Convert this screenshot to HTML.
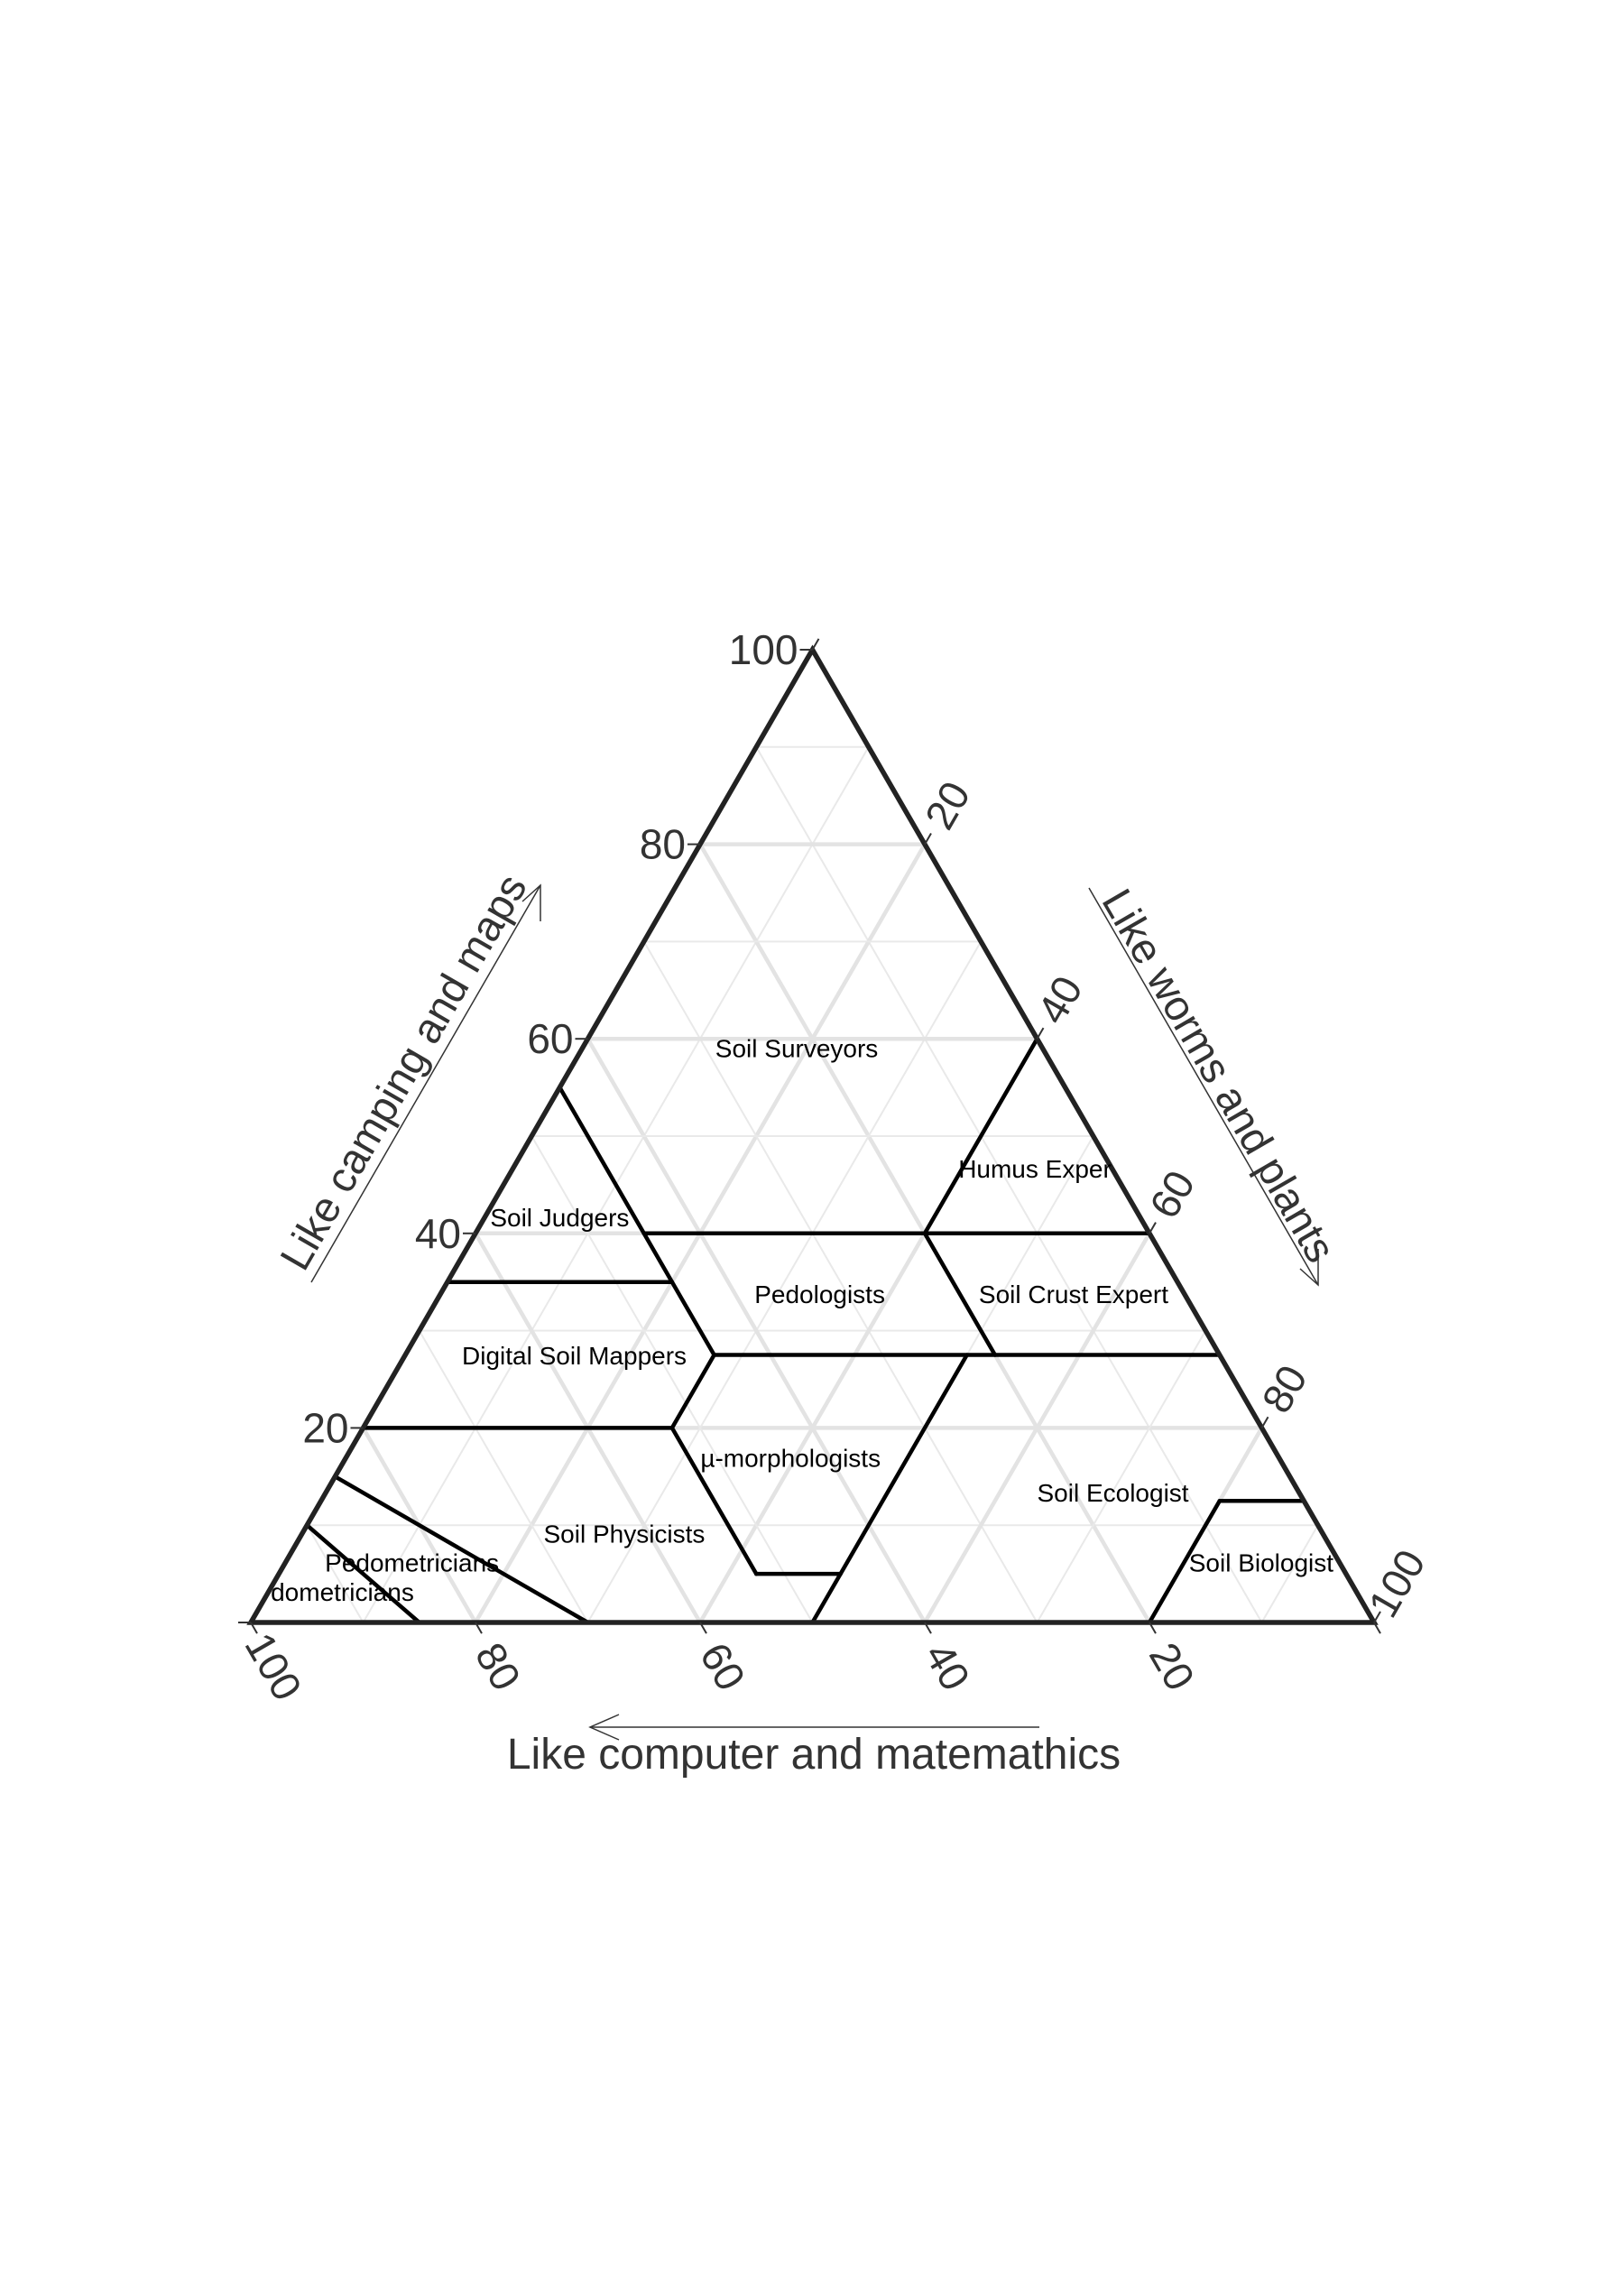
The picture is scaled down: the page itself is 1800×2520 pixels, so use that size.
<!DOCTYPE html>
<html><head><meta charset="utf-8"><style>
html,body{margin:0;padding:0;background:#fff;}
svg{display:block;font-family:"Liberation Sans",Arial,sans-serif;}
</style></head><body>
<svg id="chart" width="1800" height="2520" viewBox="0 0 1800 2520" xmlns="http://www.w3.org/2000/svg">
<rect width="1800" height="2520" fill="#fff"/>
<g id="grid"></g>
<g id="regions"></g>
<g id="frame"></g>
<g id="ticks"></g>
<g id="labels"></g>
<g id="titles">
  <text x="902" y="1960" font-size="48" fill="#333" text-anchor="middle">Like computer and matemathics</text>
  <line x1="1152" y1="1914" x2="654" y2="1914" stroke="#333" stroke-width="1.5"/>
  <polyline points="686,1900 654,1914 686,1928" fill="none" stroke="#333" stroke-width="1.5"/>
  <text x="0" y="0" font-size="47" fill="#333" text-anchor="middle" transform="translate(461,1196) rotate(-60)">Like camping and maps</text>
  <line x1="345" y1="1421" x2="599" y2="981" stroke="#333" stroke-width="1.5"/>
  <polyline points="579,999 599,981 599,1021" fill="none" stroke="#333" stroke-width="1.5"/>
  <text x="0" y="0" font-size="47" fill="#333" text-anchor="middle" transform="translate(1337,1200) rotate(60)">Like worms and plants</text>
  <line x1="1207" y1="984" x2="1461" y2="1424" stroke="#333" stroke-width="1.5"/>
  <polyline points="1461,1384 1461,1424 1441,1406" fill="none" stroke="#333" stroke-width="1.5"/>
</g>
</svg>
<script>
// Boundary segments as ternary [t(top/camping), r(right/worms)] pairs
const segStartT = [40, 55, 35, 27.5, 20, 20, 20, 5, 5, 0, 40, 40, 12.5, 12.5, 15, 10];
const segStartR = [15, 0, 0, 27.5, 0, 27.5, 27.5, 42.5, 42.5, 50, 40, 40, 80, 80, 0, 0];
const segEndT   = [40, 27.5, 35, 27.5, 20, 27.5, 5, 5, 5, 27.5, 27.5, 60, 12.5, 0, 0, 0];
const segEndR   = [60, 27.5, 20, 72.5, 27.5, 27.5, 42.5, 42.5, 50, 50, 52.5, 40, 87.5, 80, 30, 15];
const regionNames = ["Soil Surveyors","Humus Exper","Soil Judgers","Pedologists","Soil Crust Expert","Digital Soil Mappers","µ-morphologists","Soil Ecologist","Soil Physicists","Soil Biologist","Pedometricians","dometricians"];
const labelT = [59, 46.6, 41.6, 33.7, 33.7, 27.4, 16.9, 13.3, 9.1, 6.1, 6.1, 3.1];
const labelR = [19.1, 46.5, 6.7, 33.8, 56.4, 15.1, 39.6, 70.1, 28.7, 86.9, 11.3, 6.6];
const tickValues = [0, 20, 40, 60, 80, 100];
const tickLabels = ["", "20", "40", "60", "80", "100"];

const NS = "http://www.w3.org/2000/svg";
const X0 = 278, Y0 = 1798, S = 1245, H = 1078;
function px(t, r) { return X0 + (r + t / 2) / 100 * S; }
function py(t) { return Y0 - t / 100 * H; }
function mk(tag, attrs, parent) {
  const e = document.createElementNS(NS, tag);
  for (const k in attrs) e.setAttribute(k, attrs[k]);
  parent.appendChild(e); return e;
}
const grid = document.getElementById('grid');
for (let v = 10; v < 100; v += 10) {
  const major = v % 20 === 0;
  const st = { stroke: major ? '#e3e3e3' : '#e9e9e9', 'stroke-width': major ? 4.5 : 2 };
  let l = mk('line', Object.assign({ x1: px(v, 0), y1: py(v), x2: px(v, 100 - v), y2: py(v) }, st), grid);
  
  
  l = mk('line', Object.assign({ x1: px(0, v), y1: py(0), x2: px(100 - v, v), y2: py(100 - v) }, st), grid);
  
  
  l = mk('line', Object.assign({ x1: px(0, 100 - v), y1: py(0), x2: px(100 - v, 0), y2: py(100 - v) }, st), grid);
  
  
}
const reg = document.getElementById('regions');
for (let i = 0; i < segStartT.length; i++) {
  const l = mk('line', { x1: px(segStartT[i], segStartR[i]), y1: py(segStartT[i]), x2: px(segEndT[i], segEndR[i]), y2: py(segEndT[i]), stroke: '#000', 'stroke-width': 4.5, 'stroke-linecap': 'round' }, reg);
  
  
}
const fr = document.getElementById('frame');
const tri = mk('polygon', { points: `${px(0,0)},${py(0)} ${px(0,100)},${py(0)} ${px(100,0)},${py(100)}`, fill: 'none', stroke: '#222', 'stroke-width': 5.5, 'stroke-linejoin': 'miter' }, fr);



const tk = document.getElementById('ticks');
const TL = 14;
for (let i = 0; i < tickValues.length; i++) {
  const v = tickValues[i];
  let x = px(v, 0), y = py(v);
  let e = mk('line', { x1: x, y1: y, x2: x - TL, y2: y, stroke: '#333', 'stroke-width': 2 }, tk);
  
  
  if (tickLabels[i]) {
    e = mk('text', { x: x - TL - 2, y: y, 'font-size': 46, fill: '#333', 'text-anchor': 'end', 'dominant-baseline': 'central' }, tk);
    e.textContent = tickLabels[i];
    
    
  }
  x = px(100 - v, v); y = py(100 - v);
  e = mk('line', { x1: x, y1: y, x2: x + TL * 0.5, y2: y - TL * 0.866, stroke: '#333', 'stroke-width': 2 }, tk);
  
  
  if (tickLabels[i]) {
    const cx = x + 50 * 0.5, cy = y - 50 * 0.866;
    e = mk('text', { x: 0, y: 0, 'font-size': 46, fill: '#333', 'text-anchor': 'middle', 'dominant-baseline': 'central', transform: `translate(${cx},${cy}) rotate(-60)` }, tk);
    e.textContent = tickLabels[i];
    
    
  }
  x = px(0, 100 - v); y = py(0);
  e = mk('line', { x1: x, y1: y, x2: x + TL * 0.5, y2: y + TL * 0.866, stroke: '#333', 'stroke-width': 2 }, tk);
  
  
  if (tickLabels[i]) {
    const cx = x + 56 * 0.45, cy = y + 56 * 0.87;
    e = mk('text', { x: 0, y: 0, 'font-size': 46, fill: '#333', 'text-anchor': 'middle', 'dominant-baseline': 'central', transform: `translate(${cx},${cy}) rotate(60)` }, tk);
    e.textContent = tickLabels[i];
    
    
  }
}
const lb = document.getElementById('labels');
for (let i = 0; i < regionNames.length; i++) {
  const e = mk('text', { x: px(labelT[i], labelR[i]), y: py(labelT[i]), 'font-size': 28, fill: '#000', 'text-anchor': 'middle', 'dominant-baseline': 'central' }, lb);
  e.textContent = regionNames[i];
  
  
}
</script>
</body></html>
